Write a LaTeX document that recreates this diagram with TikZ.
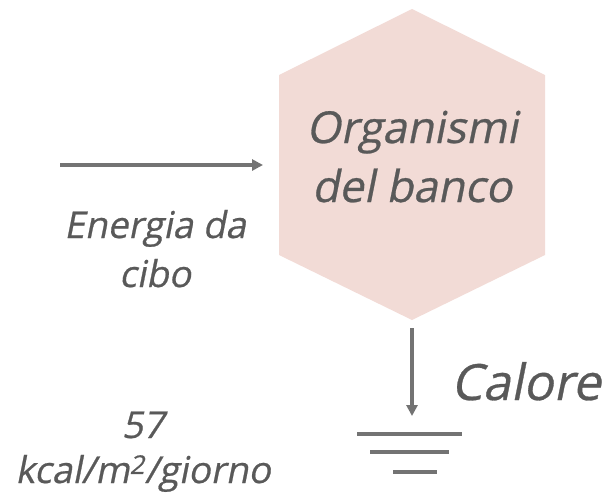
\documentclass[tikz,border=0pt]{standalone}
\usepackage{fontspec}
\setmainfont{Open Sans}
\newfontfamily\slfont{Open Sans}[FakeSlant=0.2,FakeBold=0.6]
\usetikzlibrary{arrows.meta}
\definecolor{hexfill}{HTML}{F2DBD6}
\definecolor{txt}{HTML}{595959}
\definecolor{arr}{HTML}{737373}
\tikzset{
  lbl/.style={text=txt,inner sep=0pt,anchor=base},
  flow/.style={draw=arr,line width=3.4pt,-{Triangle[length=11pt,width=11pt]}},
  gnd/.style={draw=arr,line width=4pt}
}
\begin{document}
\begin{tikzpicture}[x=1pt,y=-1pt]
\useasboundingbox (0,0) rectangle (608,496);
% hexagon
\fill[hexfill] (412,9) -- (545,75) -- (545,255) -- (412,320) -- (279,255) -- (279,75) -- cycle;
\coordinate (hexbot) at (412,328);
\node[lbl,font=\slfont\fontsize{44}{59}\selectfont] (org1) at (412,143) {Organismi};
\node[lbl,font=\slfont\fontsize{44}{59}\selectfont] (org2) at (412,202) {del banco};
% input arrow
\coordinate (inA) at (60,165);
\coordinate (inB) at (263,165);
\draw[flow] (inA) -- (inB);
\node[lbl,font=\slfont\fontsize{37}{48}\selectfont] (en1) at (155,238) {Energia da};
\node[lbl,font=\slfont\fontsize{37}{48}\selectfont] (en2) at (155,287) {cibo};
% output arrow
\coordinate (gtop) at (412,416);
\draw[flow] (hexbot) -- (gtop);
\node[lbl,font=\slfont\fontsize{50}{60}\selectfont,anchor=base east] (cal) at (601,400) {Calore};
% ground
\draw[gnd] (357,434) -- (462,434);
\draw[gnd] (370,452) -- (449,452);
\draw[gnd] (393,472) -- (437,472);
% value
\node[lbl,font=\slfont\fontsize{37}{45}\selectfont] (v1) at (143,438) {57};
\node[lbl,font=\slfont\fontsize{37}{45}\selectfont] (v2) at (143,483) {kcal/m\textsuperscript{2}/giorno};
\end{tikzpicture}
\end{document}
